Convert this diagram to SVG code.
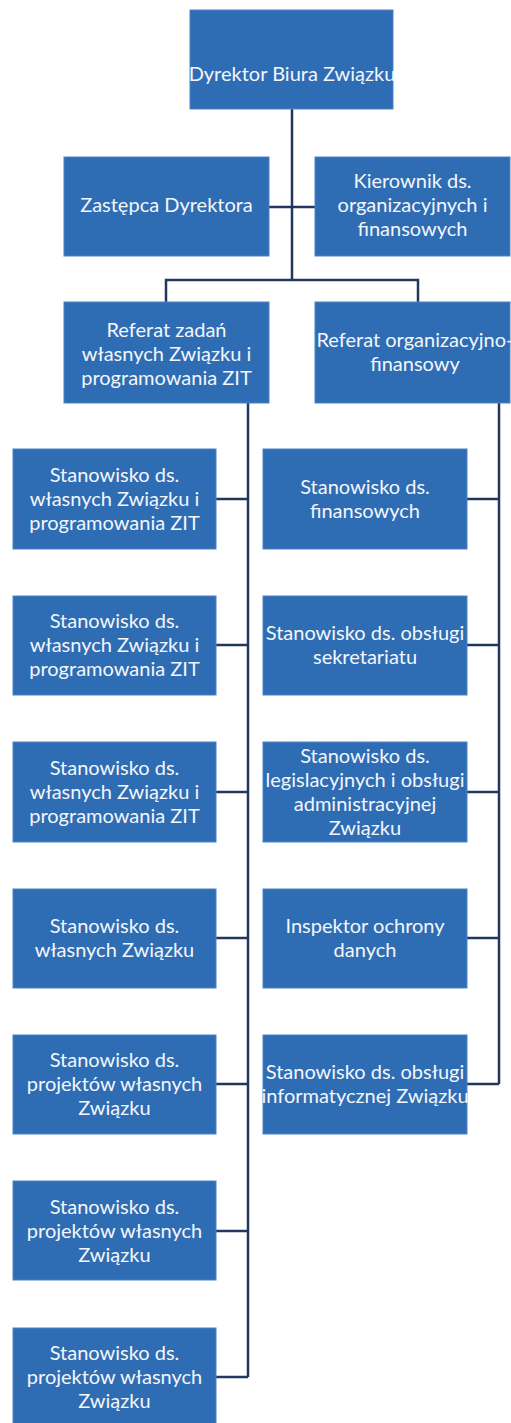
<svg xmlns="http://www.w3.org/2000/svg" width="511" height="1423" viewBox="0 0 511 1423">
<style>
.box{fill:#2e6db4;stroke:#4a84c6;stroke-width:1}
.t{font-family:Lato,"Liberation Sans",sans-serif;font-size:20px;fill:#f4f6fa;text-anchor:middle}
.c{fill:none;stroke:#22375e;stroke-width:2.5}
</style>
<rect width="511" height="1423" fill="#ffffff"/>
<g id="connectors">
<path class="c" d="M292 109V280M269 207H315M166 302V280H418V302"/>
<path class="c" d="M248 403V1377M216 499H248M216 645H248M216 792H248M216 938H248M216 1084H248M216 1231H248M216 1377H248"/>
<path class="c" d="M499 403V1084M467 499H499M467 645H499M467 792H499M467 938H499M467 1084H499"/>
</g>
<g id="dyrektor"><rect class="box" x="190" y="10" width="203" height="99"/><text class="t" x="292" y="81">Dyrektor Biura Związku</text></g>
<g id="zastepca"><rect class="box" x="64" y="157" width="205" height="99"/><text class="t" x="166.5" y="212">Zastępca Dyrektora</text></g>
<g id="kierownik"><rect class="box" x="315" y="157" width="195" height="99"/><text class="t" x="412.5" y="188">Kierownik ds.</text><text class="t" x="412.5" y="212">organizacyjnych i</text><text class="t" x="412.5" y="236">finansowych</text></g>
<g id="referat-zadan"><rect class="box" x="64" y="302" width="205" height="101"/><text class="t" x="166.5" y="337">Referat zadań</text><text class="t" x="166.5" y="361">własnych Związku i</text><text class="t" x="166.5" y="385">programowania ZIT</text></g>
<g id="referat-org"><rect class="box" x="315" y="302" width="195" height="101"/><text class="t" x="415" y="347">Referat organizacyjno-</text><text class="t" x="415" y="371">finansowy</text></g>
<g id="l1"><rect class="box" x="13" y="449" width="203" height="100"/><text class="t" x="114.5" y="482">Stanowisko ds.</text><text class="t" x="114.5" y="506">własnych Związku i</text><text class="t" x="114.5" y="530">programowania ZIT</text></g>
<g id="l2"><rect class="box" x="13" y="596" width="203" height="99"/><text class="t" x="114.5" y="628">Stanowisko ds.</text><text class="t" x="114.5" y="652">własnych Związku i</text><text class="t" x="114.5" y="676">programowania ZIT</text></g>
<g id="l3"><rect class="box" x="13" y="742" width="203" height="100"/><text class="t" x="114.5" y="775">Stanowisko ds.</text><text class="t" x="114.5" y="799">własnych Związku i</text><text class="t" x="114.5" y="823">programowania ZIT</text></g>
<g id="l4"><rect class="box" x="13" y="889" width="203" height="99"/><text class="t" x="114.5" y="933">Stanowisko ds.</text><text class="t" x="114.5" y="957">własnych Związku</text></g>
<g id="l5"><rect class="box" x="13" y="1035" width="203" height="99"/><text class="t" x="114.5" y="1067">Stanowisko ds.</text><text class="t" x="114.5" y="1091">projektów własnych</text><text class="t" x="114.5" y="1115">Związku</text></g>
<g id="l6"><rect class="box" x="13" y="1181" width="203" height="99"/><text class="t" x="114.5" y="1214">Stanowisko ds.</text><text class="t" x="114.5" y="1238">projektów własnych</text><text class="t" x="114.5" y="1262">Związku</text></g>
<g id="l7"><rect class="box" x="13" y="1328" width="203" height="99"/><text class="t" x="114.5" y="1360">Stanowisko ds.</text><text class="t" x="114.5" y="1384">projektów własnych</text><text class="t" x="114.5" y="1408">Związku</text></g>
<g id="r1"><rect class="box" x="263" y="449" width="204" height="100"/><text class="t" x="365" y="494">Stanowisko ds.</text><text class="t" x="365" y="518">finansowych</text></g>
<g id="r2"><rect class="box" x="263" y="596" width="204" height="99"/><text class="t" x="365" y="640">Stanowisko ds. obsługi</text><text class="t" x="365" y="664">sekretariatu</text></g>
<g id="r3"><rect class="box" x="263" y="742" width="204" height="100"/><text class="t" x="365" y="763">Stanowisko ds.</text><text class="t" x="365" y="787">legislacyjnych i obsługi</text><text class="t" x="365" y="811">administracyjnej</text><text class="t" x="365" y="835">Związku</text></g>
<g id="r4"><rect class="box" x="263" y="889" width="204" height="99"/><text class="t" x="365" y="933">Inspektor ochrony</text><text class="t" x="365" y="957">danych</text></g>
<g id="r5"><rect class="box" x="263" y="1035" width="204" height="99"/><text class="t" x="365" y="1079">Stanowisko ds. obsługi</text><text class="t" x="365" y="1103">informatycznej Związku</text></g>
</svg>
